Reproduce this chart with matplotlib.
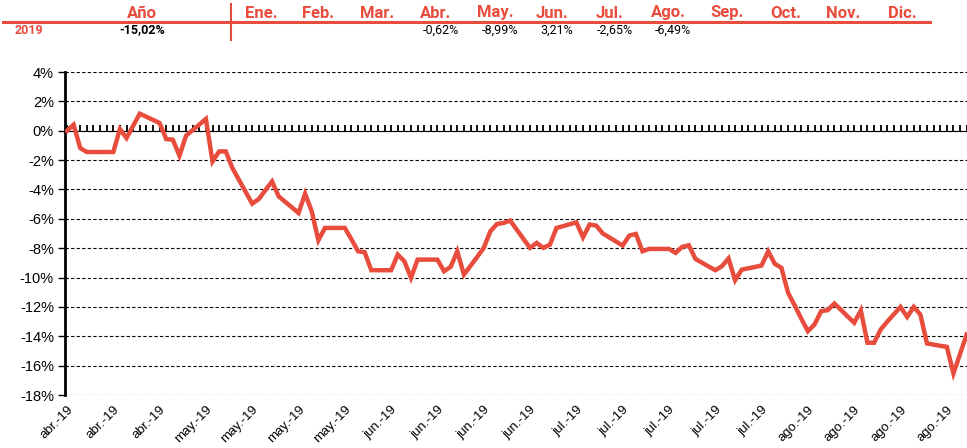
import matplotlib.pyplot as plt
from matplotlib.ticker import FuncFormatter

# cumulative return (%), one value per calendar day from mid April 2019
values = [
    0.0, 0.41, -1.18, -1.45, -1.45, -1.45, -1.45, -1.45, 0.11, -0.5,
    0.33, 1.16, 0.95, 0.74, 0.52, -0.57, -0.61, -1.7, -0.34, 0.04,
    0.42, 0.8, -2.09, -1.41, -1.41, -2.54, -3.35, -4.15, -4.97, -4.65,
    -4.05, -3.45, -4.47, -4.85, -5.22, -5.6, -4.29, -5.49, -7.46, -6.62,
    -6.62, -6.62, -6.62, -7.4, -8.21, -8.28, -9.5, -9.5, -9.5, -9.5,
    -8.44, -8.89, -10.02, -8.78, -8.78, -8.78, -8.78, -9.57, -9.27, -8.21,
    -9.8, -9.2, -8.6, -7.98, -6.85, -6.35, -6.28, -6.12, -6.75, -7.37,
    -7.98, -7.64, -7.98, -7.76, -6.62, -6.5, -6.37, -6.24, -7.26, -6.39,
    -6.46, -7.0, -7.27, -7.55, -7.82, -7.14, -7.03, -8.21, -8.05, -8.05,
    -8.05, -8.05, -8.32, -7.91, -7.8, -8.73, -8.99, -9.25, -9.5, -9.23,
    -8.7, -10.18, -9.46, -9.37, -9.28, -9.18, -8.21, -9.07, -9.34, -11.04,
    -11.9, -12.8, -13.65, -13.2, -12.29, -12.22, -11.77, -12.2, -12.65, -13.08,
    -12.24, -14.44, -14.44, -13.54, -13.0, -12.5, -12.0, -12.68, -12.0, -12.52,
    -14.49, -14.57, -14.65, -14.72, -16.53, -15.2, -13.88,
]
tick_labels = ['abr.-19'] * 3 + ['may.-19'] * 4 + ['jun.-19'] * 4 + \
    ['jul.-19'] * 5 + ['ago.-19'] * 4
tick_step = 7

months = ['Ene.', 'Feb.', 'Mar.', 'Abr.', 'May.', 'Jun.', 'Jul.', 'Ago.',
          'Sep.', 'Oct.', 'Nov.', 'Dic.']
month_returns = ['', '', '', '-0,62%', '-8,99%', '3,21%', '-2,65%', '-6,49%',
                 '', '', '', '']
year = '2019'
year_return = '-15,02%'

red = '#e84c3d'
plt.rcParams['font.family'] = ['Liberation Sans', 'DejaVu Sans']

fig = plt.figure(figsize=(9.67, 4.48), dpi=100)
ax = fig.add_axes([65 / 967, 1 - 395 / 448, 1 - 65 / 967, (395 - 72) / 448])

n = len(values)
ax.plot(range(n), values, color=red, linewidth=3.2, zorder=3,
        solid_joinstyle='miter')

ax.set_ylim(-18, 4)
ax.set_xlim(-0.3, n - 1 + 0.05)
ax.set_yticks(range(-18, 5, 2))
ax.yaxis.set_major_formatter(FuncFormatter(lambda v, p: '%d%%' % v))
ax.yaxis.grid(True, linestyle=(0, (3, 2)), color='black', linewidth=0.8)
ax.set_axisbelow(True)

ticks = list(range(0, n, tick_step))[:len(tick_labels)]
ax.set_xticks(ticks)
ax.set_xticklabels(tick_labels, rotation=45, ha='right',
                   rotation_mode='anchor', fontsize=9.5)
ax.tick_params(axis='x', length=0, pad=6)
ax.tick_params(axis='y', length=5, width=1, labelsize=10.5, pad=3)

for s in ('top', 'right', 'bottom'):
    ax.spines[s].set_visible(False)
ax.spines['left'].set_linewidth(2)

# zero line with a tick at every day
zero = ax.secondary_xaxis(18 / 22)
zero.set_xticks(range(n))
zero.tick_params(axis='x', length=4, width=1.3, direction='out',
                 labelbottom=False, labeltop=False)
zero.spines['bottom'].set_linewidth(2)
zero.spines['bottom'].set_zorder(2)

# header table
hdr = dict(color=red, fontsize=12, fontweight='bold', family='Roboto',
           ha='center', va='center')
fig.text(142 / 967, 1 - 13 / 448, 'Año', **hdr)
month_x = [261, 318, 377, 436, 495, 552, 610, 668, 727, 786, 843, 902]
for x, m, r in zip(month_x, months, month_returns):
    fig.text(x / 967, 1 - 13 / 448, m, **hdr)
    if r:
        fig.text((x + 5) / 967, 1 - 30 / 448, r, fontsize=9, family='Roboto',
                 ha='center', va='center')
fig.text(15 / 967, 1 - 30 / 448, year, color=red, fontsize=9,
         fontweight='bold', family='Roboto', va='center')
fig.text(142 / 967, 1 - 30 / 448, year_return, fontsize=9, fontweight='bold',
         family='Roboto', ha='center', va='center')
fig.add_artist(plt.Line2D([3 / 967, 930 / 967], [1 - 22 / 448, 1 - 22 / 448],
                          color=red, linewidth=2.2))
fig.add_artist(plt.Line2D([231 / 967, 231 / 967], [1 - 4 / 448, 1 - 40 / 448],
                          color=red, linewidth=1.5))

fig.savefig('out.png', dpi=100)
